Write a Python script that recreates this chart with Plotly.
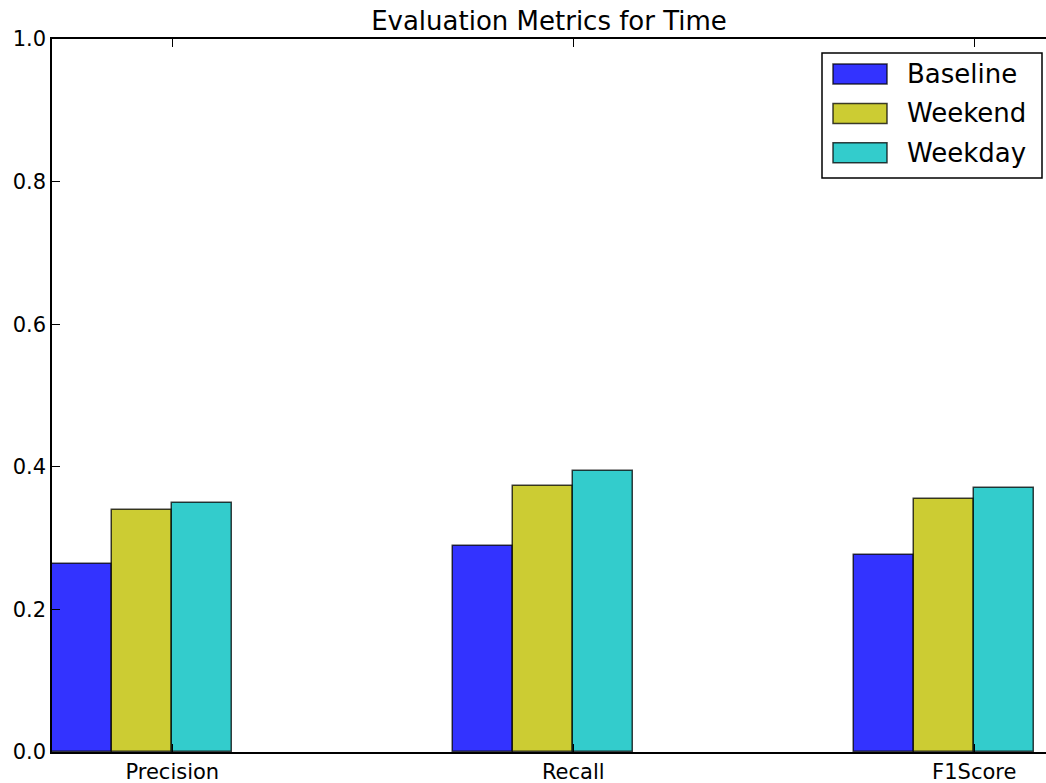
import plotly.graph_objects as go

categories = ["Precision", "Recall", "F1Score"]
series_names = ["Baseline", "Weekend", "Weekday"]
baseline = [0.264, 0.289, 0.276]
weekend = [0.339, 0.373, 0.355]
weekday = [0.349, 0.394, 0.370]
series_values = [baseline, weekend, weekday]
colors = ["rgba(0,0,255,0.8)", "rgba(191,191,0,0.8)", "rgba(0,191,191,0.8)"]
y_ticks = [0.0, 0.2, 0.4, 0.6, 0.8, 1.0]

width = 0.15
ind = list(range(len(categories)))

W, H = 1046, 783
L, R, T, B = 52, 0, 39, 31
PW, PH = W - L - R, H - T - B


def px_x(p):
    return (p - L) / PW


def px_y(p):
    return (H - B - p) / PH


fig = go.Figure()
for k, (name, vals, col) in enumerate(zip(series_names, series_values, colors)):
    fig.add_trace(go.Bar(
        x=[i + k * width + width / 2 for i in ind],
        y=vals,
        name=name,
        width=width,
        showlegend=False,
        marker=dict(color=col, line=dict(color="rgba(0,0,0,0.75)", width=1.5)),
    ))

FONT = "DejaVu Sans"

# legend (box, swatches, labels)
shapes = [dict(type="rect", xref="paper", yref="paper",
               x0=px_x(822), x1=px_x(1042), y0=px_y(178), y1=px_y(53),
               line=dict(color="black", width=1.5), fillcolor="white", layer="above")]
annotations = []
row_centers = [74, 113.5, 152.7]
for name, col, cy in zip(series_names, colors, row_centers):
    shapes.append(dict(type="rect", xref="paper", yref="paper",
                       x0=px_x(833), x1=px_x(887), y0=px_y(cy + 10), y1=px_y(cy - 10),
                       line=dict(color="rgba(0,0,0,0.75)", width=1.5), fillcolor=col,
                       layer="above"))
    annotations.append(dict(text=name, xref="paper", yref="paper",
                            x=px_x(905), y=px_y(cy), xanchor="left", yanchor="middle",
                            showarrow=False,
                            font=dict(family=FONT, size=26, color="black")))

fig.update_layout(
    width=W, height=H,
    margin=dict(l=L, r=R, t=T, b=B),
    paper_bgcolor="white", plot_bgcolor="white",
    font=dict(family=FONT, size=21, color="black"),
    title=dict(text="Evaluation Metrics for Time", x=0.5, xref="paper", xanchor="center",
               y=1 - 21 / H, yref="container", yanchor="middle",
               font=dict(family=FONT, size=26, color="black")),
    showlegend=False,
    shapes=shapes,
    annotations=annotations,
    bargap=0,
)
fig.update_xaxes(
    range=[0, 2.479],
    tickvals=[i + 2 * width for i in ind], ticktext=categories,
    ticks="inside", ticklen=8, tickwidth=1, tickcolor="black",
    showline=True, linecolor="black", linewidth=1.5, mirror="ticks",
    showgrid=False, zeroline=False,
    tickfont=dict(family=FONT, size=21, color="black"),
)
fig.update_yaxes(
    range=[0, 1.0],
    tickvals=y_ticks, ticktext=[f"{v:.1f}" for v in y_ticks],
    ticks="inside", ticklen=8, tickwidth=1, tickcolor="black",
    showline=True, linecolor="black", linewidth=1.5,
    showgrid=False, zeroline=False,
    tickfont=dict(family=FONT, size=21, color="black"),
)

fig.write_html("out.html", config={"displayModeBar": False},
               post_script="document.body.style.margin='0';document.body.style.overflow='hidden';")
